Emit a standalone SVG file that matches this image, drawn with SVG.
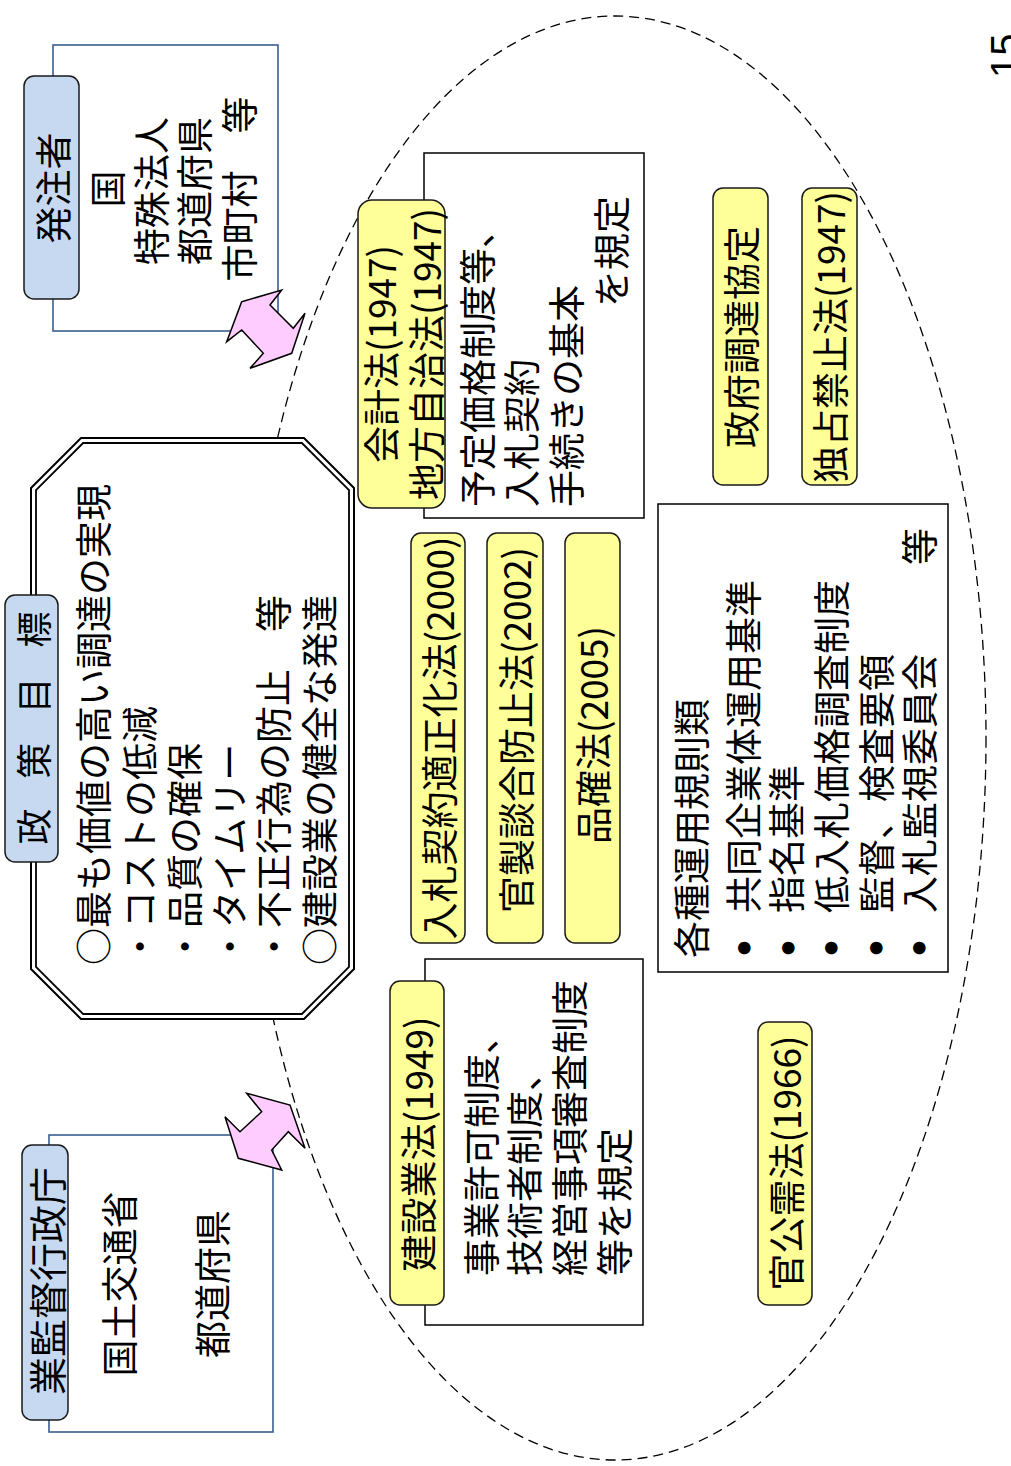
<svg xmlns="http://www.w3.org/2000/svg" width="1011" height="1466" viewBox="0 0 1011 1466">
<style>
.t{font-family:"Noto Sans CJK JP","Noto Sans",sans-serif;font-size:37px;fill:#000;dominant-baseline:central}
.pb{fill:#C6D9F1;stroke:#1a1a1a;stroke-width:1.5}
.py{fill:#FFFF99;stroke:#1a1a1a;stroke-width:1.5}
.rb{fill:#fff;stroke:#3A5F8F;stroke-width:1.6}
.rk{fill:#fff;stroke:#000;stroke-width:1.5}
.arr{fill:#FFCCFF;stroke:#000;stroke-width:1.5}
.dot{font-family:"Noto Sans CJK JP",sans-serif;font-size:14px;fill:#000;dominant-baseline:central}
</style>
<rect width="1011" height="1466" fill="#fff"/>
<ellipse id="scope" cx="615" cy="738" rx="371" ry="722" fill="none" stroke="#000" stroke-width="1.3" stroke-dasharray="10 6"/>

<g id="hacchusha">
<rect class="rb" x="53" y="45" width="225" height="286"/>
<rect class="pb" x="24" y="76" width="55" height="223" rx="10"/>
<text class="t" text-anchor="middle" transform="translate(52,188) rotate(-90)">発注者</text>
<text class="t" text-anchor="middle" transform="translate(106,189) rotate(-90)">国</text>
<text class="t" text-anchor="middle" transform="translate(150,191) rotate(-90)">特殊法人</text>
<text class="t" text-anchor="middle" transform="translate(193,191) rotate(-90)">都道府県</text>
<text class="t" text-anchor="middle" transform="translate(238,189) rotate(-90)">市町村　等</text>
</g>

<g id="kantoku">
<rect class="rb" x="49" y="1135" width="224" height="297"/>
<rect class="pb" x="22" y="1145" width="46" height="275" rx="10"/>
<text class="t" style="font-size:38px" text-anchor="middle" transform="translate(45,1281) rotate(-90)">業監督行政庁</text>
<text class="t" text-anchor="middle" transform="translate(118,1284) rotate(-90)">国土交通省</text>
<text class="t" text-anchor="middle" transform="translate(211,1284) rotate(-90)">都道府県</text>
</g>

<g id="seisaku">
<polygon points="31,488 81,438 304,438 354,488 354,969 304,1019 81,1019 31,969" fill="#fff" stroke="#000" stroke-width="2"/>
<polygon points="36,490.1 83.1,443 301.9,443 349,490.1 349,966.9 301.9,1014 83.1,1014 36,966.9" fill="none" stroke="#000" stroke-width="1.8"/>
<rect class="pb" x="5" y="595" width="53" height="267" rx="10"/>
<text class="t" style="font-size:36px" text-anchor="middle" textLength="233" lengthAdjust="spacing" transform="translate(32,728) rotate(-90)">政 策 目 標</text>
<text class="t" transform="translate(92,965) rotate(-90)">○最も価値の高い調達の実現</text>
<text class="t" transform="translate(138,965) rotate(-90)">・コストの低減</text>
<text class="t" transform="translate(183,965) rotate(-90)">・品質の確保</text>
<text class="t" transform="translate(228,965) rotate(-90)">・タイムリー</text>
<text class="t" transform="translate(272,965) rotate(-90)">・不正行為の防止　等</text>
<text class="t" transform="translate(318,965) rotate(-90)">○建設業の健全な発達</text>
</g>

<g id="kaikeiho">
<rect class="rk" x="424" y="153" width="220" height="365"/>
<rect class="py" x="358" y="200" width="87" height="308" rx="14"/>
<text class="t" text-anchor="middle" transform="translate(380,354) rotate(-90)">会計法(1947)</text>
<text class="t" text-anchor="middle" transform="translate(425,354) rotate(-90)">地方自治法(1947)</text>
<text class="t" transform="translate(476,507) rotate(-90)">予定価格制度等、</text>
<text class="t" transform="translate(520,507) rotate(-90)">入札契約</text>
<text class="t" transform="translate(565,507) rotate(-90)">手続きの基本</text>
<text class="t" text-anchor="end" transform="translate(610,196) rotate(-90)">を規定</text>
</g>

<g id="tekiseika">
<rect class="py" x="411" y="533" width="54" height="410" rx="10"/>
<text class="t" text-anchor="middle" transform="translate(438,738) rotate(-90)">入札契約適正化法(2000)</text>
</g>

<g id="kansei">
<rect class="py" x="487" y="533" width="56" height="410" rx="10"/>
<text class="t" text-anchor="middle" transform="translate(515,730) rotate(-90)">官製談合防止法(2002)</text>
</g>

<g id="hinkaku">
<rect class="py" x="565" y="533" width="55" height="410" rx="10"/>
<text class="t" text-anchor="middle" transform="translate(592,735) rotate(-90)">品確法(2005)</text>
</g>

<g id="unyo">
<rect class="rk" x="658" y="504" width="290" height="468"/>
<text class="t" transform="translate(690,958) rotate(-90)">各種運用規則類</text>
<text class="dot" text-anchor="middle" transform="translate(743,948) rotate(-90)">●</text>
<text class="dot" text-anchor="middle" transform="translate(787,948) rotate(-90)">●</text>
<text class="dot" text-anchor="middle" transform="translate(830,948) rotate(-90)">●</text>
<text class="dot" text-anchor="middle" transform="translate(875,948) rotate(-90)">●</text>
<text class="dot" text-anchor="middle" transform="translate(918,948) rotate(-90)">●</text>
<text class="t" transform="translate(742,913) rotate(-90)">共同企業体運用基準</text>
<text class="t" transform="translate(785,913) rotate(-90)">指名基準</text>
<text class="t" transform="translate(830,913) rotate(-90)">低入札価格調査制度</text>
<text class="t" transform="translate(875,913) rotate(-90)">監督、検査要領</text>
<text class="t" transform="translate(918,913) rotate(-90)">入札監視委員会</text>
<text class="t" text-anchor="end" transform="translate(918,528) rotate(-90)">等</text>
</g>

<g id="wto">
<rect class="py" x="713" y="188" width="55" height="297" rx="10"/>
<text class="t" text-anchor="middle" transform="translate(740,337) rotate(-90)">政府調達協定</text>
</g>

<g id="dokkin">
<rect class="py" x="802" y="188" width="55" height="297" rx="10"/>
<text class="t" text-anchor="middle" transform="translate(829,337) rotate(-90)">独占禁止法(1947)</text>
</g>

<g id="kankoju">
<rect class="py" x="758" y="1022" width="54" height="283" rx="10"/>
<text class="t" text-anchor="middle" transform="translate(785,1163) rotate(-90)">官公需法(1966)</text>
</g>

<g id="kensetsugyoho">
<rect class="rk" x="425" y="959" width="218" height="366"/>
<rect class="py" x="390" y="981" width="54" height="324" rx="10"/>
<text class="t" text-anchor="middle" transform="translate(417,1144) rotate(-90)">建設業法(1949)</text>
<text class="t" transform="translate(480,1276) rotate(-90)">事業許可制度、</text>
<text class="t" transform="translate(523,1276) rotate(-90)">技術者制度、</text>
<text class="t" transform="translate(568,1276) rotate(-90)">経営事項審査制度</text>
<text class="t" transform="translate(613,1276) rotate(-90)">等を規定</text>
</g>

<g id="connectors">
<polygon class="arr" points="241.7,301.7 281.7,290 270,305 293.3,328.3 305,313.3 291.7,353.3 250,368.3 263.3,353.3 241.7,330 226.7,341.7"/>
<polygon class="arr" points="290,1105 305,1148.3 288.3,1131.7 271.7,1150 281.7,1170 238.3,1158.3 225,1116.7 240,1131.7 261.7,1111.7 246.7,1093.3"/>
</g>

<text style="font-family:'Liberation Sans',sans-serif;font-size:40px" transform="translate(1019,78) rotate(-90)">15</text>
</svg>
